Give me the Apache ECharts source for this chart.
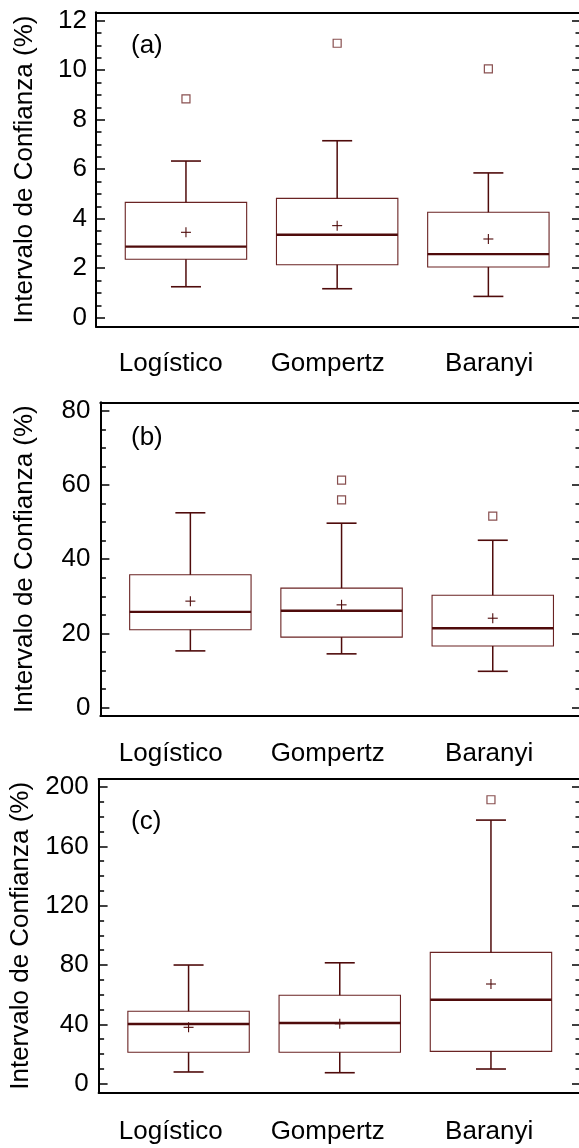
<!DOCTYPE html>
<html><head><meta charset="utf-8">
<script src="https://cdn.jsdelivr.net/npm/echarts@6/dist/echarts.min.js"></script>
<style>html,body{margin:0;padding:0;background:#fff}#c{width:579px;height:1148px}</style>
</head><body><div id="c"></div>
<script>
const categories = ['Logístico', 'Gompertz', 'Baranyi'];
const panelLetters = ['(a)', '(b)', '(c)'];
const yAxisName = 'Intervalo de Confianza (%)';

// Panel (a)
const aMin  = [1.25, 1.17, 0.86];
const aQ1   = [2.36, 2.14, 2.05];
const aMed  = [2.87, 3.35, 2.57];
const aQ3   = [4.66, 4.82, 4.26];
const aMax  = [6.33, 7.15, 5.85];
const aMean = [3.45, 3.72, 3.18];
const aOutliers = [[1, 8.84], [2, 11.09], [3, 10.05]];
const aTicks = [0, 2, 4, 6, 8, 10, 12];

// Panel (b)
const bMin  = [15.3, 14.5, 9.8];
const bQ1   = [21.0, 19.0, 16.6];
const bMed  = [25.8, 26.1, 21.4];
const bQ3   = [35.8, 32.2, 30.3];
const bMax  = [52.5, 49.7, 45.1];
const bMean = [28.7, 27.7, 24.1];
const bOutliers = [[2, 61.3], [2, 56.0], [3, 51.6]];
const bTicks = [0, 20, 40, 60, 80];

// Panel (c)
const cMin  = [7.9, 7.4, 9.9];
const cQ1   = [21.2, 21.2, 21.8];
const cMed  = [40.2, 40.9, 56.6];
const cQ3   = [48.8, 59.6, 88.5];
const cMax  = [80.0, 81.5, 177.7];
const cMean = [38.0, 40.4, 67.2];
const cOutliers = [[3, 191.4]];
const cTicks = [0, 40, 80, 120, 160, 200];

const FONT = '"Liberation Sans", Arial, sans-serif';
const BOX = '#6a2323';
const LINE = '#4f0b0b';
const BLACK = '#000';

const panels = [
  {min: aMin, q1: aQ1, med: aMed, q3: aQ3, max: aMax, mean: aMean, out: aOutliers, ticks: aTicks, minorStep: 0.5,
   top: 12.3, bottom: 326.7, left: 96, yMin: -0.364, yMax: 12.34, xLabelMargin: 24, yLabelMargin: 9, letterTop: 33},
  {min: bMin, q1: bQ1, med: bMed, q3: bQ3, max: bMax, mean: bMean, out: bOutliers, ticks: bTicks, minorStep: 5,
   top: 402.3, bottom: 716, left: 100.4, yMin: -2.24, yMax: 82.26, xLabelMargin: 25, yLabelMargin: 10, letterTop: 425},
  {min: cMin, q1: cQ1, med: cMed, q3: cQ3, max: cMax, mean: cMean, out: cOutliers, ticks: cTicks, minorStep: 10,
   top: 779, bottom: 1092.7, left: 98.6, yMin: -6.07, yMax: 205.4, xLabelMargin: 26, yLabelMargin: 10, letterTop: 809}
];

const X_MIN = 0.405, PX_PER_UNIT = 151.2, RIGHT_EDGE = 581;
const LABEL_PX = [170.8, 327.7, 489.2];

function renderBox(params, api) {
  const x = api.value(0);
  const c = v => api.coord([x, v]);
  const cx = c(api.value(1))[0];
  const yMin = c(api.value(1))[1], yQ1 = c(api.value(2))[1], yMed = c(api.value(3))[1];
  const yQ3 = c(api.value(4))[1], yMax = c(api.value(5))[1], yMean = c(api.value(6))[1];
  const half = 60.7, cap = 15, p = 5;
  const ln = (x1, y1, x2, y2, col, w) => ({type: 'line', shape: {x1, y1, x2, y2}, style: {stroke: col, lineWidth: w}});
  return {type: 'group', children: [
    {type: 'rect', shape: {x: cx - half, y: yQ3, width: 2 * half, height: yQ1 - yQ3}, style: {fill: 'none', stroke: BOX, lineWidth: 1.1}},
    ln(cx, yQ3, cx, yMax, LINE, 1.5),
    ln(cx, yQ1, cx, yMin, LINE, 1.5),
    ln(cx - cap, yMax, cx + cap, yMax, LINE, 1.6),
    ln(cx - cap, yMin, cx + cap, yMin, LINE, 1.6),
    ln(cx - half, yMed, cx + half, yMed, LINE, 2.4),
    ln(cx - p, yMean, cx + p, yMean, LINE, 1.1),
    ln(cx, yMean - p, cx, yMean + p, LINE, 1.1)
  ]};
}

const grid = [], xAxis = [], yAxis = [], series = [], title = [];
panels.forEach((p, g) => {
  const width = RIGHT_EDGE - p.left;
  const xMax = X_MIN + width / PX_PER_UNIT;
  grid.push({left: p.left, top: p.top, width: width, height: p.bottom - p.top, containLabel: false, outerBoundsMode: 'none'});
  const labelVals = LABEL_PX.map(px => X_MIN + (px - p.left) / PX_PER_UNIT);
  const minors = [];
  for (let v = p.ticks[0]; v <= p.ticks[p.ticks.length - 1] + 1e-9; v += p.minorStep) minors.push(+v.toFixed(6));
  const axisLine = {show: true, onZero: false, lineStyle: {color: BLACK, width: 2}};
  xAxis.push({type: 'value', gridIndex: g, position: 'bottom', min: X_MIN, max: xMax,
    axisLine, axisTick: {show: false}, splitLine: {show: false},
    axisLabel: {show: true, customValues: labelVals, margin: p.xLabelMargin, fontSize: 26, color: BLACK, fontFamily: FONT,
      formatter: v => { let k = 0, d = 1e9; labelVals.forEach((lv, i) => { if (Math.abs(lv - v) < d) { d = Math.abs(lv - v); k = i; } }); return categories[k]; }}});
  xAxis.push({type: 'value', gridIndex: g, position: 'top', min: X_MIN, max: xMax,
    axisLine, axisTick: {show: false}, axisLabel: {show: false}, splitLine: {show: false}});
  const common = {type: 'value', gridIndex: g, min: p.yMin, max: p.yMax, splitLine: {show: false}};
  const tickStyle = {color: BLACK, width: 1.5};
  yAxis.push({...common, position: 'left', name: yAxisName, nameLocation: 'middle', nameGap: p.left - 38,
    nameTextStyle: {fontSize: 26, color: BLACK, fontFamily: FONT},
    axisLine, axisTick: {show: true, inside: true, length: 9, customValues: p.ticks, lineStyle: tickStyle},
    axisLabel: {show: true, customValues: p.ticks, margin: p.yLabelMargin, fontSize: 26, color: BLACK, fontFamily: FONT}});
  yAxis.push({...common, position: 'left', axisLine: {show: false},
    axisTick: {show: true, inside: true, length: 5.5, customValues: minors, lineStyle: tickStyle}, axisLabel: {show: false}});
  yAxis.push({...common, position: 'right', axisLine: {show: false},
    axisTick: {show: true, inside: true, length: 9, customValues: p.ticks, lineStyle: tickStyle}, axisLabel: {show: false}});
  yAxis.push({...common, position: 'right', axisLine: {show: false},
    axisTick: {show: true, inside: true, length: 5.5, customValues: minors, lineStyle: tickStyle}, axisLabel: {show: false}});
  const rows = categories.map((_, i) => [i + 1, p.min[i], p.q1[i], p.med[i], p.q3[i], p.max[i], p.mean[i]]);
  series.push({type: 'custom', xAxisIndex: 2 * g, yAxisIndex: 4 * g, data: rows, encode: {x: 0, y: [1, 2, 3, 4, 5, 6]},
    renderItem: renderBox, clip: false, silent: true, z: 3});
  series.push({type: 'scatter', xAxisIndex: 2 * g, yAxisIndex: 4 * g, data: p.out, symbol: 'rect', symbolSize: 8,
    itemStyle: {color: '#fff', borderColor: BOX, borderWidth: 1.2}, silent: true, z: 4});
  title.push({text: panelLetters[g], left: 131, top: p.letterTop, padding: 0,
    textStyle: {fontSize: 26, fontWeight: 'normal', color: BLACK, fontFamily: FONT}});
});

const chart = echarts.init(document.getElementById('c'), null, {renderer: 'canvas'});
chart.setOption({animation: false, backgroundColor: '#fff', title, grid, xAxis, yAxis, series});
</script>
</body></html>
